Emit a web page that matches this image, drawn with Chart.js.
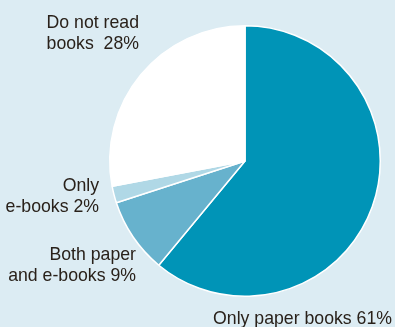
<!DOCTYPE html>
<html>
<head>
<meta charset="utf-8">
<script src="https://cdn.jsdelivr.net/npm/chart.js@4"></script>
<style>
  html, body { margin: 0; padding: 0; background: #dcecf3; }
  #wrap { position: relative; width: 395px; height: 327px; }
</style>
</head>
<body>
<div id="wrap"><canvas id="myChart" width="395" height="327"></canvas></div>
<script>
// ---- data ----
let categories = ["Only paper books", "Both paper and e-books", "Only e-books", "Do not read books"];
let shares = [61, 9, 2, 28];
let sliceColors = ["#0094b7", "#67b2cd", "#b0d8e6", "#ffffff"];

// label lines, one list per slice
let labelLines = [
  ["Only paper books 61%"],
  ["Both paper", "and e-books 9%"],
  ["Only", "e-books 2%"],
  ["Do not read", "books  28%"]
];
// right edge + first baseline of each label block
let labelPos = [
  { x: 392, y: 324 },
  { x: 136, y: 260 },
  { x: 99, y: 191 },
  { x: 139, y: 28 }
];

// --- labels drawn on the canvas ---
const labelPlugin = {
  id: "sliceLabels",
  afterDraw(chart) {
    let ctx = chart.ctx;
    ctx.save();
    ctx.fillStyle = "#29211a";
    ctx.font = "17.7px 'Liberation Sans', Arial, sans-serif";
    ctx.textAlign = "right";
    ctx.textBaseline = "alphabetic";
    labelLines.forEach((lines, i) => {
      lines.forEach((txt, j) => {
        ctx.fillText(txt, labelPos[i].x, labelPos[i].y + j * 21);
      });
    });
    ctx.restore();
  }
};

new Chart("myChart", {
  type: "pie",
  data: {
    labels: categories,
    datasets: [{
      data: shares,
      backgroundColor: sliceColors,
      borderColor: "#ffffff",
      borderWidth: 1.5
    }]
  },
  options: {
    responsive: false,
    animation: false,
    rotation: 0,
    layout: { padding: { left: 109, right: 14, top: 25, bottom: 30 } },
    plugins: {
      legend: { display: false },
      tooltip: { enabled: false }
    }
  },
  plugins: [labelPlugin]
});
</script>
</body>
</html>
